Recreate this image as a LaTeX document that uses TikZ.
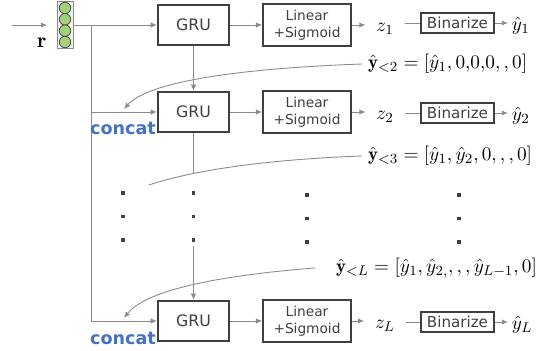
\documentclass[tikz,border=0pt]{standalone}
\usepackage{fontspec}
\setsansfont{DejaVu Sans}
\usetikzlibrary{arrows.meta}
\definecolor{wire}{HTML}{8A8A8A}
\definecolor{edge}{HTML}{404040}
\definecolor{catblue}{HTML}{4472C4}
\definecolor{cell}{HTML}{A3D07C}
\begin{document}
\begin{tikzpicture}[x=0.02cm, y=-0.02cm,
    >={Latex[length=3.5pt,width=3pt]},
    wire/.style={draw=wire, line width=0.5pt},
    grubox/.style={draw=edge, line width=1.3pt, minimum width=1.42cm, minimum height=0.8cm, text=edge, font=\sffamily\fontsize{9}{10}\selectfont},
    linbox/.style={draw=edge, line width=1pt, minimum width=1.76cm, minimum height=0.8cm, text=edge, align=center, font=\sffamily\fontsize{7.8}{9.4}\selectfont},
    binbox/.style={draw=edge, line width=1pt, minimum width=1.46cm, minimum height=0.4cm, inner sep=1pt, text=edge, font=\sffamily\fontsize{8.6}{10}\selectfont},
    catlabel/.style={text=catblue, font=\sffamily\bfseries\fontsize{10}{12}\selectfont},
    mathlabel/.style={font=\fontsize{10.8}{12}\selectfont, anchor=west},
    dot/.style={fill=edge, minimum size=1.8pt, inner sep=0pt}]
    \useasboundingbox (0,0) rectangle (547,351);

    % input vector
    \node[draw=wire, fill=black!5, minimum width=0.32cm, minimum height=0.94cm, inner sep=0pt] (vec) at (65,25) {};
    \foreach \i/\y in {1/8,2/19.3,3/30.7,4/42}
        \node[circle, draw=edge, fill=cell, minimum size=0.23cm, inner sep=0pt, line width=0.4pt] (c\i) at (65,\y) {};
    \node[font=\fontsize{12}{14}\selectfont] (r) at (42,43) {$\mathbf{r}$};
    \coordinate (in) at (12,25);
    \coordinate (inend) at (47,25);
    \draw[wire, ->] (in) -- (inend);

    % three rows
    \node[grubox] (gru1) at (193.5,25) {GRU};
    \node[grubox] (gru2) at (193.5,112) {GRU};
    \node[grubox] (gru3) at (193.5,321) {GRU};
    \node[linbox] (lin1) at (307,25) {Linear\\+Sigmoid};
    \node[linbox] (lin2) at (307,112) {Linear\\+Sigmoid};
    \node[linbox] (lin3) at (307,321) {Linear\\+Sigmoid};
    \node[inner sep=6pt, font=\fontsize{11}{12}\selectfont] (z1) at (385,29) {$z_1$};
    \node[inner sep=6pt, font=\fontsize{11}{12}\selectfont] (z2) at (385,117) {$z_2$};
    \node[inner sep=6pt, font=\fontsize{11}{12}\selectfont] (z3) at (385,326) {$z_L$};
    \node[binbox] (bin1) at (457.5,23) {Binarize};
    \node[binbox] (bin2) at (457.5,113) {Binarize};
    \node[binbox] (bin3) at (457.5,322) {Binarize};
    \node[inner sep=2pt, anchor=west, font=\fontsize{11}{12}\selectfont] (yh1) at (508,26) {$\hat{y}_1$};
    \node[inner sep=2pt, anchor=west, font=\fontsize{11}{12}\selectfont] (yh2) at (508,116) {$\hat{y}_2$};
    \node[inner sep=2pt, anchor=west, font=\fontsize{11}{12}\selectfont] (yh3) at (508,325) {$\hat{y}_L$};

    \foreach \k in {1,2,3} {
        \draw[wire, ->] (gru\k.east) -- (gru\k.east -| lin\k.west);
        \draw[wire, ->] (lin\k.east) -- (lin\k.east -| z\k.west);
        \draw[wire] (bin\k.west -| z\k.east) -- (bin\k.west);
        \draw[wire, ->] (bin\k.east) -- (bin\k.east -| yh\k.west);
    }

    % concat feed
    \coordinate (split) at (91,25);
    \draw[wire, ->] (vec.east) -- (gru1.west);
    \draw[wire, ->] (split) |- (gru2.west);
    \draw[wire, ->] (split) |- (gru3.west);
    \node[catlabel] (cat2) at (123,128) {concat};
    \node[catlabel] (cat3) at (123,338) {concat};

    % hidden state
    \draw[wire, ->] (gru1.south) -- (gru2.north);
    \coordinate (gap1) at (193.5,173);
    \coordinate (gap2) at (193.5,246);
    \draw[wire] (gru2.south) -- (gap1);
    \draw[wire, ->] (gap2) -- (gru3.north);

    % dots
    \foreach \j/\x/\y in {1/123/193,2/193.5/193,3/307/195,4/459/195}
        \foreach \n in {0,1,2}
            \node[dot] (d\j\n) at (\x,\y+23.5*\n) {};

    % previous outputs
    \node[mathlabel] (prev2) at (362,64) {$\hat{\mathbf{y}}_{<2} = [\hat{y}_1, 0{,}0{,}0, , 0]$};
    \node[mathlabel] (prev3) at (362,156) {$\hat{\mathbf{y}}_{<3} = [\hat{y}_1, \hat{y}_2, 0, , , 0]$};
    \node[mathlabel] (prevL) at (330,268) {$\hat{\mathbf{y}}_{<L} = [\hat{y}_1, \hat{y}_{2,}, , , \hat{y}_{L-1}, 0]$};
    \coordinate (tip2) at (124,109);
    \coordinate (end3) at (149,185);
    \coordinate (tipL) at (124,318);
    \draw[wire, ->] (prev2.west) .. controls (250,68) and (150,80) .. (tip2);
    \draw[wire] (prev3.west) .. controls (280,159) and (200,168) .. (end3);
    \draw[wire, ->] ([xshift=-0.3cm]prevL.west) .. controls (250,273) and (150,285) .. (tipL);
\end{tikzpicture}
\end{document}
